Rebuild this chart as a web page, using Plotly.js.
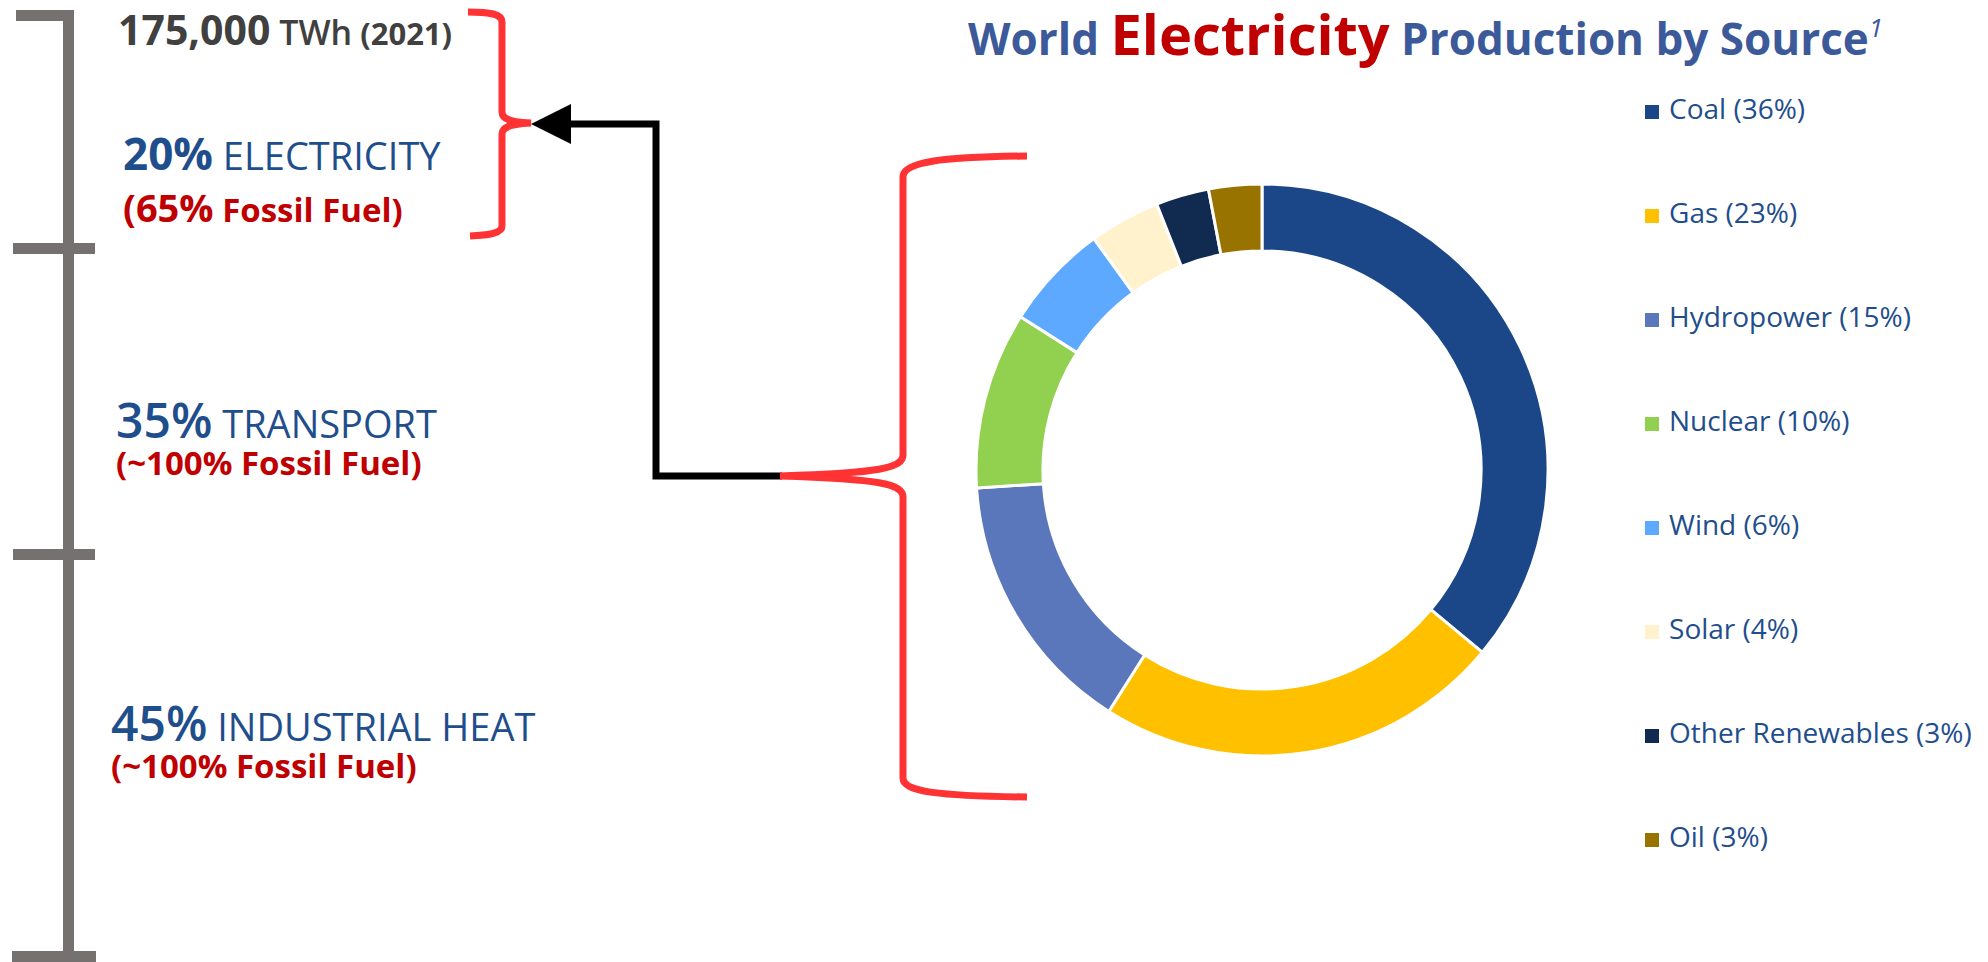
<!DOCTYPE html>
<html>
<head>
<meta charset="utf-8">
<script src="https://cdn.plot.ly/plotly-3.0.1.min.js"></script>
<style>
  html, body { margin: 0; padding: 0; background: #ffffff; }
  #chart { width: 1988px; height: 962px; }
</style>
</head>
<body>
<div id="chart"></div>
<script>
// ---- Data ----
const sources = ['Coal', 'Gas', 'Hydropower', 'Nuclear', 'Wind', 'Solar', 'Other Renewables', 'Oil'];
const shares = [36, 23, 15, 10, 6, 4, 3, 3];
const sourceColors = ['#1B4788', '#FFC000', '#5A77BC', '#92D050', '#5DA9FF', '#FFF2CC', '#112A50', '#997300'];

const totalEnergy = '175,000';
const energyUnit = 'TWh';
const dataYear = '2021';
const sectors = ['ELECTRICITY', 'TRANSPORT', 'INDUSTRIAL HEAT'];
const sectorShares = [20, 35, 45];
const fossilShares = ['65%', '~100%', '~100%'];

const legendLabels = sources.map((s, i) => '\u00a0' + s + ' (' + shares[i] + '%)');

// ---- Styles ----
const BLUE = '#1F4E8C';
const RED = '#C00000';
const BRACE = '#FF3333';
const GRAY = '#767171';
const FONT = 'Open Sans, sans-serif';

const W = 1988, H = 962;

// Donut
const donut = {
  type: 'pie',
  labels: sources,
  values: shares,
  sort: false,
  direction: 'clockwise',
  rotation: 0,
  hole: 0.766,
  textinfo: 'none',
  marker: { colors: sourceColors, line: { color: '#ffffff', width: 3 } },
  domain: { x: [976 / W, 1548 / W], y: [1 - 756 / H, 1 - 184 / H] },
  showlegend: false,
  hovertemplate: '%{label}: %{value}%<extra></extra>'
};

// Legend drawn as a marker+text scatter on its own axes
const legendTrace = {
  type: 'scatter',
  mode: 'markers+text',
  x: sources.map(() => 0),
  y: sources,
  xaxis: 'x2',
  yaxis: 'y2',
  text: legendLabels,
  textposition: 'middle right',
  textfont: { family: FONT, size: 28, color: BLUE },
  marker: { symbol: 'square', size: 14, color: sourceColors, line: { width: 0 } },
  hoverinfo: 'skip',
  showlegend: false,
  cliponaxis: false
};

// ---- Decorative shapes (pixel axes) ----
const shapes = [];
function rect(x0, y0, x1, y1, color) {
  shapes.push({ type: 'rect', xref: 'x', yref: 'y', x0, y0, x1, y1, fillcolor: color, line: { width: 0 }, layer: 'above' });
}
// gray scale bar
rect(63, 10, 74, 962, GRAY);
rect(16, 10, 74, 21, GRAY);
rect(13, 243, 95, 254, GRAY);
rect(13, 549, 95, 560, GRAY);
rect(12, 951, 96, 962, GRAY);

// small red brace (top)
shapes.push({
  type: 'path', xref: 'x', yref: 'y',
  path: 'M 468 12 C 490 12, 502 14, 502 22 L 502 112 C 502 119, 510 122, 531 123 C 510 124, 502 127, 502 134 L 502 226 C 502 233, 490 235, 470 236',
  line: { color: BRACE, width: 7 }, fillcolor: 'rgba(0,0,0,0)'
});
// black connector
shapes.push({
  type: 'path', xref: 'x', yref: 'y',
  path: 'M 782 476 L 656 476 L 656 124 L 566 124',
  line: { color: '#000000', width: 7 }, fillcolor: 'rgba(0,0,0,0)'
});
// arrow head
shapes.push({
  type: 'path', xref: 'x', yref: 'y',
  path: 'M 531 124 L 571 104 L 571 144 Z',
  line: { width: 0 }, fillcolor: '#000000'
});
// big red brace
shapes.push({
  type: 'path', xref: 'x', yref: 'y',
  path: 'M 1027 156 C 940 157, 903 162, 903 177 L 903 455 C 903 468, 880 473, 780 476 C 880 479, 903 484, 903 497 L 903 778 C 903 792, 940 796, 1027 797',
  line: { color: BRACE, width: 7 }, fillcolor: 'rgba(0,0,0,0)'
});

// ---- Text annotations ----
function sp(size, weight, color, txt) {
  return '<span style="font-size:' + size + 'px;font-weight:' + weight + ';color:' + color + '">' + txt + '</span>';
}
const annotations = [];
function ann(x, y, text) {
  annotations.push({ xref: 'x', yref: 'y', x, y, xanchor: 'left', yanchor: 'middle', showarrow: false, align: 'left', text, font: { family: FONT, size: 30, color: BLUE } });
}
ann(116, 29, sp(41, 700, '#404040', totalEnergy) + sp(34, 600, '#404040', ' ' + energyUnit) + sp(31, 700, '#404040', ' (' + dataYear + ')'));

const rowY = [153, 419, 722];
const fossilY = [207, 462, 765];
const rowX = [121, 114, 109];
sectors.forEach((s, i) => {
  ann(rowX[i], rowY[i], sp(i === 0 ? 44 : 48, i === 0 ? 700 : 600, BLUE, sectorShares[i] + '%') + sp(38, 400, BLUE, ' ' + s));
  ann(rowX[i], fossilY[i], sp(i === 0 ? 38 : 33, 700, RED, '(' + fossilShares[i]) + sp(33, 700, RED, ' Fossil Fuel)'));
});

// Title
annotations.push({
  xref: 'x', yref: 'y', x: 966, y: 33, xanchor: 'left', yanchor: 'middle', showarrow: false,
  text: sp(44, 700, '#3C5A9A', 'World ') + sp(56, 700, RED, 'Electricity') + sp(44, 700, '#3C5A9A', ' Production by Source') + '<sup><i>' + sp(26, 400, '#3C5A9A', '1') + '</i></sup>',
  font: { family: FONT, size: 44, color: '#3C5A9A' }
});

const layout = {
  width: W, height: H,
  margin: { l: 0, r: 0, t: 0, b: 0, pad: 0 },
  paper_bgcolor: '#ffffff', plot_bgcolor: 'rgba(0,0,0,0)',
  showlegend: false,
  xaxis: { range: [0, W], visible: false, fixedrange: true, domain: [0, 1] },
  yaxis: { range: [H, 0], visible: false, fixedrange: true, domain: [0, 1] },
  xaxis2: { domain: [1600 / W, 1], range: [-52, 336], visible: false, fixedrange: true, anchor: 'y2' },
  yaxis2: {
    domain: [1 - 892 / H, 1 - 60 / H], type: 'category', categoryorder: 'array', categoryarray: sources,
    range: [7.5, -0.5], visible: false, fixedrange: true, anchor: 'x2'
  },
  shapes, annotations,
  font: { family: FONT }
};

Plotly.newPlot('chart', [donut, legendTrace], layout, { displayModeBar: false, staticPlot: false, responsive: false });
</script>
</body>
</html>
